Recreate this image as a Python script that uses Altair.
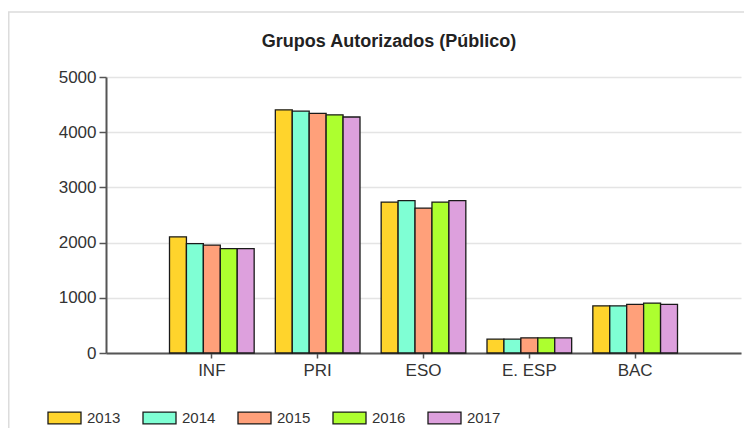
import altair as alt
import pandas as pd

categories = ["INF", "PRI", "ESO", "E. ESP", "BAC"]
years = ["2013", "2014", "2015", "2016", "2017"]
v2013 = [2105, 4405, 2735, 250, 855]
v2014 = [1980, 4380, 2760, 250, 855]
v2015 = [1955, 4340, 2625, 275, 880]
v2016 = [1890, 4315, 2735, 275, 905]
v2017 = [1890, 4275, 2760, 275, 880]
colors = ["#FFD42C", "#7FFFD4", "#FFA07A", "#ADFF2F", "#DDA0DD"]
y_ticks = [0, 1000, 2000, 3000, 4000, 5000]
title_text = "Grupos Autorizados (Público)"

series = [v2013, v2014, v2015, v2016, v2017]
rows = []
for yr, vals in zip(years, series):
    for c, v in zip(categories, vals):
        rows.append({"cat": c, "year": yr, "value": v})
df = pd.DataFrame(rows)

FONT = "Liberation Sans"

frame = alt.Chart(alt.Data(values=[{"a": 1}])).mark_rect(
    fill="white", fillOpacity=0, stroke="#dcdcdc", strokeWidth=1.5
).encode(
    x=alt.value(-97.25), x2=alt.value(700), y=alt.value(-65), y2=alt.value(500)
)

title = alt.Chart(alt.Data(values=[{"t": title_text}])).mark_text(
    font=FONT, fontSize=18, fontWeight="bold", color="#222222",
    align="center", baseline="alphabetic"
).encode(x=alt.value(283), y=alt.value(-30), text="t:N")

bars = alt.Chart(df).mark_bar(stroke="#1a1a1a", strokeWidth=1.3, opacity=1).encode(
    x=alt.X("cat:N", sort=categories,
            scale=alt.Scale(paddingInner=0.2, paddingOuter=0.6),
            axis=alt.Axis(title=None, labelAngle=0, labelFontSize=17, labelFont=FONT,
                          labelColor="#333333", tickSize=5, tickColor="#555555",
                          tickWidth=1.5, domainColor="#555555", domainWidth=2,
                          labelPadding=4, grid=False)),
    xOffset=alt.XOffset("year:N", sort=years, scale=alt.Scale(paddingInner=0, paddingOuter=0)),
    y=alt.Y("value:Q", scale=alt.Scale(domain=[0, 5000], nice=False),
            axis=alt.Axis(title=None, values=y_ticks, format="d", labelFontSize=17,
                          labelFont=FONT, labelColor="#333333", tickSize=7,
                          tickColor="#555555", tickWidth=1.5, domainColor="#555555",
                          domainWidth=2, labelPadding=3, grid=True,
                          gridColor="#e4e4e4", gridWidth=1.5)),
    fill=alt.Fill("year:N", sort=years,
                  scale=alt.Scale(domain=years, range=colors),
                  legend=alt.Legend(title=None, orient="none", direction="horizontal",
                                    legendX=-59, legendY=323, padding=0,
                                    symbolType="M-1,-0.36 L1,-0.36 L1,0.36 L-1,0.36 Z",
                                    symbolSize=1089, symbolStrokeColor="#1a1a1a",
                                    symbolStrokeWidth=1.3, symbolOpacity=1,
                                    labelFontSize=15, labelFont=FONT,
                                    labelColor="#333333", labelOffset=5,
                                    columnPadding=19)),
)

chart = alt.layer(frame, title, bars).properties(
    width=635, height=276,
    autosize=alt.AutoSizeParams(type="none"),
    padding={"left": 98, "top": 69, "right": 3, "bottom": 75},
).configure_view(stroke=None)

chart.save("out.html", embed_options={"renderer": "svg", "actions": False})
